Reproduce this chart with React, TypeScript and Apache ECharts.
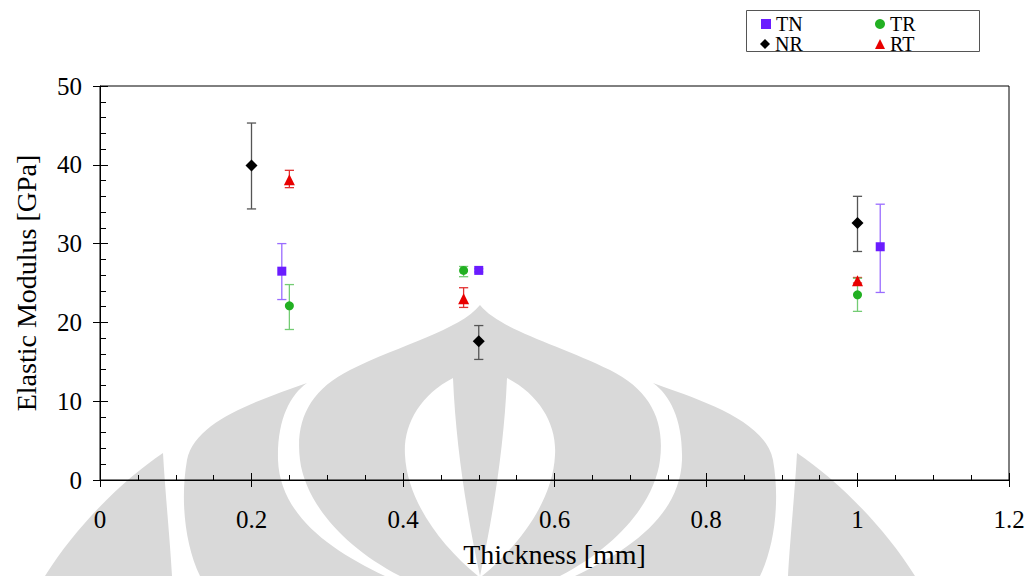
import React, { useEffect, useRef } from "react";
import * as echarts from "echarts";

// ---- Data ----
const seriesNames = ["TN", "TR", "NR", "RT"];

const tnThickness = [0.24, 0.5, 1.03];
const tnModulus = [26.5, 26.6, 29.6];
const tnLow = [22.9, 26.4, 23.8];
const tnHigh = [30.0, 26.8, 35.0];

const trThickness = [0.25, 0.48, 1.0];
const trModulus = [22.1, 26.6, 23.5];
const trLow = [19.1, 25.8, 21.4];
const trHigh = [24.8, 27.1, 25.6];

const nrThickness = [0.2, 0.5, 1.0];
const nrModulus = [39.9, 17.6, 32.6];
const nrLow = [34.4, 15.3, 29.0];
const nrHigh = [45.3, 19.6, 36.0];

const rtThickness = [0.25, 0.48, 1.0];
const rtModulus = [38.1, 23.0, 25.3];
const rtLow = [37.1, 21.9, 25.0];
const rtHigh = [39.3, 24.4, 25.7];

const xAxisTitle = "Thickness [mm]";
const yAxisTitle = "Elastic Modulus [GPa]";

// ---- Watermark shapes (decoration) ----
const mirror = (d: string) => {
  const tokens = d.match(/[MCLZ]|-?\d+(\.\d+)?/g) || [];
  let idx = 0;
  return tokens
    .map((t) => {
      if (/[MCLZ]/.test(t)) {
        idx = 0;
        return t;
      }
      const v = parseFloat(t);
      const out = idx % 2 === 0 ? 960 - v : v;
      idx++;
      return String(out);
    })
    .join(" ");
};

const onionPath =
  "M 480 305 C 500 330 560 345 610 370 C 650 390 665 420 660 460 C 655 500 620 545 560 576 L 400 576 C 340 545 305 500 300 460 C 295 420 310 390 350 370 C 400 345 460 330 480 305 Z";
const lensLeft =
  "M 453 378 C 420 395 403 425 405 455 C 407 500 440 545 478 576 L 480 576 C 468 520 456 450 453 378 Z";
const bandLeft =
  "M 307 383 C 260 400 195 420 187 460 C 180 500 185 545 200 576 L 385 576 C 330 550 280 515 278 460 C 277 420 290 395 307 383 Z";
const petalLeft =
  "M 163 453 C 130 475 80 520 45 576 L 172 576 C 170 540 165 490 163 453 Z";

const shapeDefs: [string, string][] = [
  ["wmOnion", onionPath],
  ["wmLensL", lensLeft],
  ["wmLensR", mirror(lensLeft)],
  ["wmBandL", bandLeft],
  ["wmBandR", mirror(bandLeft)],
  ["wmPetalL", petalLeft],
  ["wmPetalR", mirror(petalLeft)],
];
shapeDefs.forEach(([name, d]) => {
  echarts.graphic.registerShape(name, echarts.graphic.extendPath(d, {}) as any);
});

const FONT = "Liberation Serif";
const WM = "#d9d9d9";

const errorSeries = (
  name: string,
  xs: number[],
  lo: number[],
  hi: number[],
  color: string
) => ({
  type: "custom",
  name,
  silent: true,
  z: 1,
  data: xs.map((x, i) => [x, lo[i], hi[i]]),
  encode: { x: 0, y: [1, 2] },
  renderItem: (_params: any, api: any) => {
    const x = api.value(0);
    const top = api.coord([x, api.value(2)]);
    const bot = api.coord([x, api.value(1)]);
    const w = 4.6;
    const st = { stroke: color, lineWidth: 1.3 };
    return {
      type: "group",
      children: [
        { type: "line", shape: { x1: top[0], y1: top[1], x2: bot[0], y2: bot[1] }, style: st },
        { type: "line", shape: { x1: top[0] - w, y1: top[1], x2: top[0] + w, y2: top[1] }, style: st },
        { type: "line", shape: { x1: bot[0] - w, y1: bot[1], x2: bot[0] + w, y2: bot[1] }, style: st },
      ],
    };
  },
});

const scatterSeries = (
  name: string,
  xs: number[],
  ys: number[],
  color: string,
  symbol: string,
  size: number
) => ({
  type: "scatter",
  name,
  z: 3,
  symbol,
  symbolSize: size,
  itemStyle: { color, opacity: 1 },
  data: xs.map((x, i) => [x, ys[i]]),
});

export default function App() {
  const ref = useRef<HTMLDivElement>(null);

  useEffect(() => {
    if (!ref.current) return;
    const chart = echarts.init(ref.current, null, { renderer: "svg" });

    const legendItem = (name: string, left: number, top: number) => ({
      left,
      top,
      itemWidth: 10,
      itemHeight: 10,
      itemGap: 6,
      padding: 0,
      data: [name],
      textStyle: { fontFamily: FONT, fontSize: 20, color: "#000", padding: [0, 0, 0, 0] },
    });

    const axisLabelStyle = { fontFamily: FONT, fontSize: 25, color: "#000" };

    chart.setOption({
      animation: false,
      backgroundColor: "#fff",
      textStyle: { fontFamily: FONT },
      grid: {
        left: 100,
        right: 23,
        top: 86,
        bottom: 96,
        show: true,
        borderColor: "#000",
        borderWidth: 1,
        backgroundColor: "transparent",
      },
      legend: [
        legendItem(seriesNames[0], 761, 14),
        legendItem(seriesNames[1], 875, 14),
        legendItem(seriesNames[2], 760, 34),
        legendItem(seriesNames[3], 875, 34),
      ],
      graphic: [
        { type: "wmPetalL", x: 0, y: 0, z: -1, silent: true, style: { fill: WM } },
        { type: "wmPetalR", x: 0, y: 0, z: -1, silent: true, style: { fill: WM } },
        { type: "wmBandL", x: 0, y: 0, z: -1, silent: true, style: { fill: WM } },
        { type: "wmBandR", x: 0, y: 0, z: -1, silent: true, style: { fill: WM } },
        { type: "wmOnion", x: 0, y: 0, z: -1, silent: true, style: { fill: WM } },
        { type: "wmLensL", x: 0, y: 0, z: -1, silent: true, style: { fill: "#fff" } },
        { type: "wmLensR", x: 0, y: 0, z: -1, silent: true, style: { fill: "#fff" } },
        {
          type: "rect",
          z: 0,
          silent: true,
          shape: { x: 746.5, y: 10.5, width: 233, height: 41 },
          style: { fill: "#fff", stroke: "#555", lineWidth: 1 },
        },
      ],
      xAxis: [
        {
          type: "value",
          min: 0,
          max: 1.2,
          interval: 0.2,
          position: "bottom",
          name: xAxisTitle,
          nameLocation: "middle",
          nameGap: 60,
          nameTextStyle: { fontFamily: FONT, fontSize: 28, color: "#000" },
          axisLine: { show: true, lineStyle: { color: "#000", width: 1 } },
          axisTick: { show: true, inside: true, length: 7, lineStyle: { color: "#000" } },
          minorTick: { show: true, splitNumber: 4, length: 5, lineStyle: { color: "#000" } },
          axisLabel: { ...axisLabelStyle, margin: 27 },
          splitLine: { show: false },
        },
        {
          type: "value",
          min: 0,
          max: 1.2,
          interval: 0.2,
          position: "bottom",
          offset: 0,
          axisLine: { show: false },
          axisTick: { show: true, inside: false, length: 7, lineStyle: { color: "#000" } },
          axisLabel: { show: false },
          splitLine: { show: false },
        },
      ],
      yAxis: [
        {
          type: "value",
          min: 0,
          max: 50,
          interval: 10,
          position: "left",
          name: yAxisTitle,
          nameLocation: "middle",
          nameGap: 60,
          nameTextStyle: { fontFamily: FONT, fontSize: 28, color: "#000" },
          axisLine: { show: true, lineStyle: { color: "#000", width: 1 } },
          axisTick: { show: true, inside: true, length: 8, lineStyle: { color: "#000" } },
          minorTick: { show: true, splitNumber: 5, length: 6, lineStyle: { color: "#000" } },
          axisLabel: { ...axisLabelStyle, margin: 18 },
          splitLine: { show: false },
        },
        {
          type: "value",
          min: 0,
          max: 50,
          interval: 10,
          position: "left",
          offset: 0,
          axisLine: { show: false },
          axisTick: { show: true, inside: false, length: 7, lineStyle: { color: "#000" } },
          axisLabel: { show: false },
          splitLine: { show: false },
        },
      ],
      series: [
        errorSeries("NR err", nrThickness, nrLow, nrHigh, "#555555"),
        errorSeries("RT err", rtThickness, rtLow, rtHigh, "#e23030"),
        errorSeries("TN err", tnThickness, tnLow, tnHigh, "#9a6cff"),
        errorSeries("TR err", trThickness, trLow, trHigh, "#74cc74"),
        scatterSeries("TN", tnThickness, tnModulus, "#6a1cff", "rect", 9),
        scatterSeries("TR", trThickness, trModulus, "#22b022", "circle", 9),
        scatterSeries("NR", nrThickness, nrModulus, "#000000", "diamond", 12),
        scatterSeries("RT", rtThickness, rtModulus, "#e80000", "triangle", 11),
      ],
    });

    return () => chart.dispose();
  }, []);

  return (
    <div
      ref={ref}
      style={{ position: "absolute", left: 0, top: 0, width: 1032, height: 576, background: "#fff" }}
    />
  );
}
